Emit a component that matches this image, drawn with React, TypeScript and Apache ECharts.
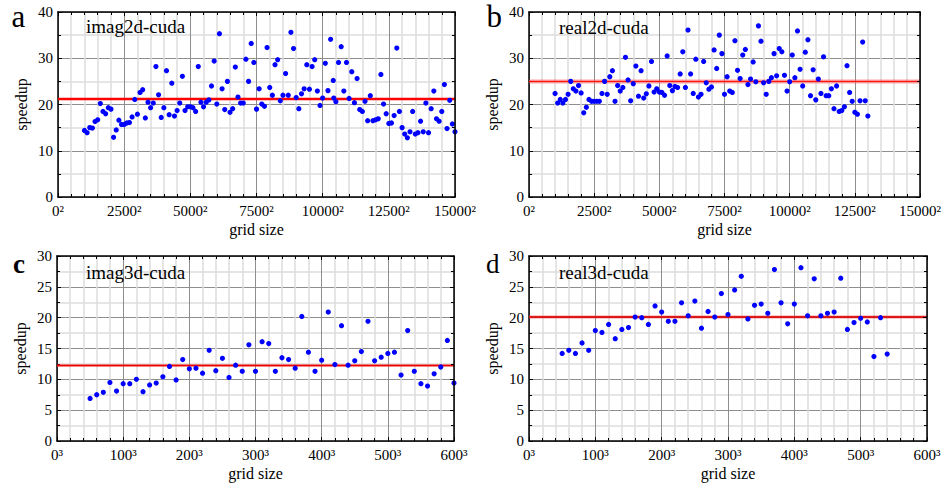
import React, { useEffect, useRef } from "react";
import * as echarts from "echarts";

const FONT = "Liberation Serif";

// [grid size n, speedup]
const pointsA: number[][] = [
  [1000,14.4],[1100,13.9],[1200,15.0],[1300,14.9],[1400,16.3],[1500,16.7],[1600,20.2],[1700,18.5],[1800,18.0],[1900,19.3],
  [2000,19.0],[2100,12.9],[2200,14.5],[2300,16.6],[2400,15.7],[2500,15.7],[2600,16.0],[2700,16.1],[2800,17.3],[2900,21.1],
  [3000,17.9],[3100,22.6],[3200,23.2],[3300,17.1],[3400,20.5],[3500,19.3],[3600,20.3],[3700,28.2],[3800,22.1],[3900,17.2],
  [4000,19.3],[4100,27.3],[4200,17.8],[4300,24.6],[4400,17.5],[4500,18.7],[4600,20.3],[4700,26.1],[4800,18.7],[4900,19.5],
  [5000,19.5],[5100,19.3],[5200,18.5],[5300,28.2],[5400,20.5],[5500,19.5],[5600,20.5],[5700,21.0],[5800,24.0],[5900,29.4],
  [6000,20.1],[6100,35.3],[6200,23.4],[6300,18.9],[6400,25.0],[6500,18.3],[6600,19.1],[6700,28.1],[6800,21.6],[6900,20.3],
  [7000,20.3],[7100,29.8],[7200,25.0],[7300,33.2],[7400,29.1],[7500,19.0],[7600,23.4],[7700,20.1],[7800,19.6],[7900,32.3],
  [8000,23.7],[8100,22.0],[8200,28.6],[8300,29.7],[8400,20.8],[8500,22.0],[8600,26.7],[8700,22.0],[8800,35.6],[8900,32.1],
  [9000,21.5],[9100,19.1],[9200,22.3],[9300,23.4],[9400,28.6],[9500,23.3],[9600,28.2],[9700,29.7],[9800,22.9],[9900,19.8],
  [10000,21.4],[10100,28.9],[10200,23.0],[10300,34.1],[10400,25.2],[10420,21.4],[10500,20.6],[10600,29.1],[10700,32.5],[10800,22.9],[10900,29.1],
  [11000,21.3],[11100,27.1],[11200,20.4],[11300,25.6],[11400,18.9],[11500,18.5],[11600,20.7],[11700,16.5],[11800,21.9],[11900,16.5],
  [12000,16.7],[12100,16.9],[12200,26.5],[12300,20.1],[12400,18.0],[12500,15.9],[12600,16.0],[12700,17.6],[12800,32.2],[12900,18.5],
  [13000,15.0],[13100,13.6],[13200,12.8],[13300,14.1],[13400,18.5],[13500,13.6],[13600,13.9],[13700,16.4],[13800,14.1],[13900,20.3],
  [14000,13.9],[14100,19.1],[14200,22.9],[14300,16.9],[14400,16.4],[14500,18.5],[14600,24.3],[14700,14.8],[14800,20.9],[14900,15.8],
  [15000,14.1],
];

const pointsB: number[][] = [
  [1000,22.4],[1100,20.3],[1200,21.1],[1300,20.3],[1400,21.1],[1500,22.2],[1600,25.0],[1700,23.4],[1800,22.9],[1900,24.1],
  [2000,22.5],[2100,18.2],[2200,19.4],[2300,21.1],[2400,20.7],[2500,20.7],[2600,20.7],[2700,20.7],[2800,22.4],[2900,25.0],
  [3000,22.2],[3100,26.0],[3200,27.3],[3300,20.7],[3400,24.1],[3500,22.9],[3600,23.7],[3700,30.2],[3800,25.3],[3900,20.8],
  [4000,24.5],[4100,28.3],[4200,21.8],[4300,27.3],[4400,21.4],[4500,22.3],[4600,24.0],[4700,29.3],[4800,22.7],[4900,23.4],
  [5000,22.7],[5100,22.6],[5200,22.0],[5300,30.5],[5400,24.1],[5500,23.0],[5600,23.9],[5700,23.7],[5800,26.6],[5900,31.4],
  [6000,23.7],[6100,36.1],[6200,26.6],[6300,22.4],[6400,29.8],[6500,21.6],[6600,22.2],[6700,29.3],[6800,24.7],[6900,23.3],
  [7000,23.8],[7100,31.8],[7200,27.8],[7300,35.0],[7400,31.0],[7500,22.2],[7600,26.0],[7700,22.9],[7800,22.6],[7900,33.8],
  [8000,27.4],[8100,25.6],[8200,30.7],[8300,31.9],[8400,24.3],[8500,25.5],[8600,29.2],[8700,24.9],[8800,37.0],[8900,33.7],
  [9000,24.7],[9100,22.2],[9200,25.0],[9300,25.8],[9400,31.0],[9500,26.2],[9600,32.1],[9700,31.4],[9800,26.3],[9900,22.9],
  [10000,24.9],[10100,30.7],[10200,25.8],[10300,35.9],[10400,27.6],[10500,24.0],[10600,31.3],[10700,34.0],[10800,21.9],[10900,27.5],
  [11000,21.0],[11100,25.5],[11200,22.4],[11300,30.3],[11400,21.9],[11500,21.9],[11600,23.4],[11700,19.1],[11800,24.0],[11900,18.5],
  [12000,18.7],[12100,19.5],[12200,28.4],[12300,22.6],[12400,20.7],[12500,18.3],[12600,17.9],[12700,20.8],[12800,33.5],[12900,20.8],
  [13000,17.5],
];

const pointsC: number[][] = [
  [50,6.9],[60,7.5],[70,7.9],[80,9.5],[90,8.1],[100,9.3],[110,9.3],[120,10.0],[130,8.0],[140,9.1],
  [150,9.4],[160,10.4],[170,12.1],[180,9.9],[190,13.2],[200,11.7],[210,11.8],[220,11.0],[230,14.7],[240,11.4],
  [250,13.4],[260,10.3],[270,12.3],[280,11.3],[290,15.6],[300,11.3],[310,16.1],[320,15.8],[330,11.3],[340,13.5],
  [350,13.2],[360,11.8],[370,20.2],[380,14.4],[390,11.3],[400,13.1],[410,20.9],[420,12.4],[430,18.7],[440,12.3],
  [450,13.0],[460,14.5],[470,19.4],[480,13.0],[490,13.6],[500,14.2],[510,14.4],[520,10.7],[530,17.9],[540,11.3],
  [550,9.3],[560,8.9],[570,10.9],[580,12.0],[590,16.3],[600,9.4],
];

const pointsD: number[][] = [
  [50,14.2],[60,14.7],[70,14.2],[80,15.9],[90,14.7],[100,17.9],[110,17.6],[120,18.9],[130,16.6],[140,18.1],
  [150,18.4],[160,20.1],[170,20.0],[180,18.9],[190,21.9],[200,20.9],[210,19.4],[220,19.4],[230,22.4],[240,20.3],
  [250,22.7],[260,18.3],[270,21.0],[280,20.1],[290,23.9],[300,20.5],[310,24.5],[320,26.7],[330,19.8],[340,22.0],
  [350,22.2],[360,20.7],[370,27.8],[380,22.4],[390,19.0],[400,22.2],[410,28.1],[420,20.3],[430,26.3],[440,20.3],
  [450,20.7],[460,20.9],[470,26.4],[480,18.1],[490,19.2],[500,19.9],[510,19.3],[520,13.7],[530,20.0],[540,14.1],
];

const means = [21.2, 25.0, 12.25, 20.1];
const titles = ["imag2d-cuda", "real2d-cuda", "imag3d-cuda", "real3d-cuda"];
const letters = ["a", "b", "c", "d"];

type Panel = {
  points: number[][];
  xMax: number; xInterval: number; yMax: number; yInterval: number; power: string;
  grid: { left: number; top: number; width: number; height: number };
  meanLines: { color: string; width: number }[];
  letter: { x: number; baseline: number; size: number; bold: boolean };
  title: { x: number; baseline: number };
};

const panels: Panel[] = [
  {
    points: pointsA, xMax: 15000, xInterval: 2500, yMax: 40, yInterval: 10, power: "\u00b2",
    grid: { left: 58, top: 12, width: 397, height: 185 },
    meanLines: [{ color: "#ff0000", width: 2.5 }],
    letter: { x: 11.5, baseline: 27, size: 31, bold: false },
    title: { x: 86, baseline: 33.3 },
  },
  {
    points: pointsB, xMax: 15000, xInterval: 2500, yMax: 40, yInterval: 10, power: "\u00b2",
    grid: { left: 529, top: 12, width: 398, height: 185 },
    meanLines: [{ color: "rgba(255,90,90,0.55)", width: 4 }, { color: "#ff0000", width: 1 }],
    letter: { x: 486.5, baseline: 27, size: 31, bold: false },
    title: { x: 559, baseline: 34.3 },
  },
  {
    points: pointsC, xMax: 600, xInterval: 100, yMax: 30, yInterval: 5, power: "\u00b3",
    grid: { left: 57, top: 256, width: 397, height: 185 },
    meanLines: [{ color: "rgba(255,60,60,0.4)", width: 3 }, { color: "#ee0000", width: 1.5 }],
    letter: { x: 13, baseline: 273.3, size: 27, bold: true },
    title: { x: 86, baseline: 279 },
  },
  {
    points: pointsD, xMax: 600, xInterval: 100, yMax: 30, yInterval: 5, power: "\u00b3",
    grid: { left: 529, top: 256, width: 398, height: 185 },
    meanLines: [{ color: "#ff2a2a", width: 2.6 }, { color: "#a00000", width: 0.8 }],
    letter: { x: 486, baseline: 273.3, size: 27, bold: false },
    title: { x: 559, baseline: 279 },
  },
];

function buildOption() {
  const grid: any[] = [];
  const xAxis: any[] = [];
  const yAxis: any[] = [];
  const series: any[] = [];
  const graphic: any[] = [];

  const frame = { show: true, onZero: false, lineStyle: { color: "#000", width: 1.5 } };
  const tick = { show: true, inside: true, length: 4, lineStyle: { color: "#000", width: 1 } };
  const splitLine = { show: true, lineStyle: { color: "#8e8e8e", width: 1 } };
  const minorSplit = { show: true, lineStyle: { color: "#dcdcdc", width: 1.5 } };
  const labelFont = { fontFamily: FONT, fontSize: 15, color: "#000" };
  const nameFont = { fontFamily: FONT, fontSize: 16, color: "#000" };

  panels.forEach((p, i) => {
    grid.push({ ...p.grid, containLabel: false });
    const xc = { gridIndex: i, type: "value", min: 0, max: p.xMax, interval: p.xInterval };
    const yc = { gridIndex: i, type: "value", min: 0, max: p.yMax, interval: p.yInterval };
    xAxis.push({
      ...xc, position: "bottom", axisLine: frame, axisTick: tick,
      minorTick: { show: true, splitNumber: 5, length: 3, lineStyle: { color: "#000", width: 1 } },
      splitLine, minorSplitLine: minorSplit,
      axisLabel: {
        show: true, margin: 6, ...labelFont,
        formatter: (v: number) => `${v}${p.power}`,
      },
      name: "grid size", nameLocation: "middle", nameGap: 24,
      nameTextStyle: nameFont,
    });
    xAxis.push({
      ...xc, position: "top", axisLine: frame, axisTick: tick,
      minorTick: { show: true, splitNumber: 5, length: 3, lineStyle: { color: "#000", width: 1 } },
      splitLine: { show: false }, minorSplitLine: { show: false }, axisLabel: { show: false }, z: 5,
    });
    yAxis.push({
      ...yc, position: "left", axisLine: frame, axisTick: tick,
      minorTick: { show: true, splitNumber: 2, length: 3, lineStyle: { color: "#000", width: 1 } },
      splitLine, minorSplitLine: minorSplit,
      axisLabel: { show: true, margin: 5, ...labelFont },
      name: "speedup", nameLocation: "middle", nameGap: 29,
      nameTextStyle: nameFont,
    });
    yAxis.push({
      ...yc, position: "right", axisLine: frame, axisTick: tick,
      minorTick: { show: true, splitNumber: 2, length: 3, lineStyle: { color: "#000", width: 1 } },
      splitLine: { show: false }, minorSplitLine: { show: false }, axisLabel: { show: false }, z: 5,
    });

    p.meanLines.forEach((ls) => {
      series.push({
        type: "line", xAxisIndex: 2 * i, yAxisIndex: 2 * i,
        data: [[0, means[i]], [p.xMax, means[i]]],
        symbol: "none", silent: true, z: 2,
        lineStyle: { color: ls.color, width: ls.width },
      });
    });
    series.push({
      type: "scatter", xAxisIndex: 2 * i, yAxisIndex: 2 * i,
      data: p.points, symbol: "circle", symbolSize: 5.2, z: 4,
      itemStyle: { color: "#0000ff", opacity: 1 },
    });

    graphic.push({
      type: "text", x: p.letter.x, y: p.letter.baseline - 0.3375 * p.letter.size, z: 10,
      style: {
        text: letters[i], fill: "#000", verticalAlign: "middle", align: "left",
        font: `${p.letter.bold ? "bold " : ""}${p.letter.size}px ${FONT}`,
      },
    });
    graphic.push({
      type: "text", x: p.title.x, y: p.title.baseline - 0.3375 * 19, z: 10,
      style: {
        text: titles[i], fill: "#000", verticalAlign: "middle", align: "left",
        font: `19px ${FONT}`,
      },
    });
  });

  return {
    animation: false,
    backgroundColor: "#ffffff",
    grid, xAxis, yAxis, series, graphic,
  };
}

export default function App() {
  const ref = useRef<HTMLDivElement>(null);
  useEffect(() => {
    if (!ref.current) return;
    const chart = echarts.init(ref.current, undefined, { renderer: "svg" });
    chart.setOption(buildOption() as any);
    return () => chart.dispose();
  }, []);
  return (
    <div
      ref={ref}
      style={{ position: "absolute", left: 0, top: 0, width: 944, height: 483, background: "#fff" }}
    />
  );
}
